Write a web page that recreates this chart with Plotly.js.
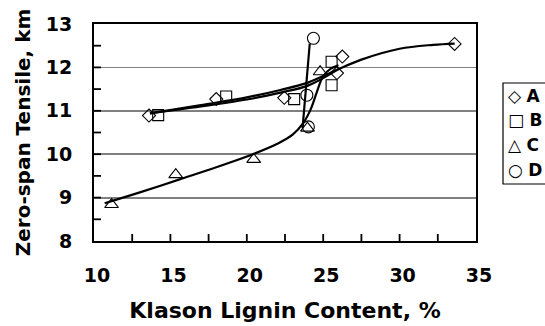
<!DOCTYPE html>
<html>
<head>
<meta charset="utf-8">
<script src="https://cdn.plot.ly/plotly-3.0.1.min.js"></script>
<style>html,body{margin:0;padding:0;background:#fff;}#chart{width:545px;height:326px;}</style>
</head>
<body>
<div id="chart"></div>
<script>
// ---- data ----
const seriesNames = ['A', 'B', 'C', 'D'];
const legendGlyphs = ['\u25C7', '\u25A1', '\u25B3', '\u25CB'];

const aX = [13.6, 18.0, 22.45, 25.9, 26.25, 33.6];
const aY = [10.89, 11.27, 11.30, 11.87, 12.25, 12.54];
const bX = [14.2, 18.65, 23.1, 25.55, 25.55];
const bY = [10.90, 11.33, 11.27, 12.13, 11.59];
const cX = [11.15, 15.35, 20.45, 23.97, 24.8];
const cY = [8.84, 9.53, 9.88, 10.60, 11.90];
const dX = [24.36, 23.93, 24.03];
const dY = [12.67, 11.36, 10.63];

// trend lines
const aFitX = [13.66, 17, 20, 22.2, 24, 25.8, 27.5, 30, 32.2, 33.6];
const aFitY = [10.94, 11.13, 11.31, 11.48, 11.65, 11.93, 12.18, 12.43, 12.52, 12.55];
const bFitX = [13.66, 17, 20, 22.2, 24, 26.0];
const bFitY = [10.94, 11.10, 11.26, 11.42, 11.58, 11.96];
const cFitX = [10.7, 13, 15.6, 18, 20.4, 22.0, 23.0, 23.7, 24.2, 24.6, 25.0, 25.5, 26.0];
const cFitY = [8.87, 9.12, 9.42, 9.70, 10.0, 10.24, 10.45, 10.72, 11.05, 11.45, 11.80, 11.97, 12.05];
const dFitX = [24.12, 23.65];
const dFitY = [12.55, 10.60];

// axes
const xRange = [10, 35];
const yRange = [8, 13];
const xMinorTicks = [12.5, 15, 17.5, 20, 22.5, 25, 27.5, 30, 32.5];
const yMinorTicks = [8.5, 9, 9.5, 10, 10.5, 11, 11.5, 12, 12.5];

const FONT = 'DejaVu Sans, Liberation Sans, Arial, sans-serif';

function fit(x, y) {
  return {x: x, y: y, type: 'scatter', mode: 'lines', showlegend: false, hoverinfo: 'skip',
          line: {color: '#000', width: 2.2, shape: 'spline', smoothing: 1}};
}
function pts(x, y, sym, size, name) {
  return {x: x, y: y, type: 'scatter', mode: 'markers', name: name, showlegend: false,
          marker: {symbol: sym, size: size, color: '#000', line: {color: '#000', width: 1.1}}};
}

const data = [
  fit(aFitX, aFitY), fit(bFitX, bFitY), fit(cFitX, cFitY),
  {x: dFitX, y: dFitY, type: 'scatter', mode: 'lines', showlegend: false, hoverinfo: 'skip', line: {color: '#000', width: 2.2}},
  pts(aX, aY, 'diamond-open', 10, seriesNames[0]),
  pts(bX, bY, 'square-open', 11, seriesNames[1]),
  pts(cX, cY, 'triangle-up-open', 12, seriesNames[2]),
  pts(dX, dY, 'circle-open', 12, seriesNames[3])
];

// legend built from annotations (px -> paper conversion)
const L = 94, R = 476, T = 24, B = 241;
const px = v => (v - L) / (R - L);
const py = v => (B - v) / (B - T);
const legendRowsY = [96, 120, 145, 170];
const annotations = seriesNames.map((n, i) => ({
  xref: 'paper', yref: 'paper', x: px(506), y: py(legendRowsY[i]),
  xanchor: 'left', yanchor: 'middle', showarrow: false,
  text: legendGlyphs[i] + ' <b>' + n + '</b>',
  font: {family: FONT, size: 17, color: '#000'}
}));

// inside tick marks as pixel-sized shapes anchored at axis values
const TICK = 7;
const tickShapes = [].concat(
  xMinorTicks.map(v => ({type: 'line', layer: 'above', xref: 'x', yref: 'y', x0: v, x1: v,
    ysizemode: 'pixel', yanchor: yRange[0], y0: 0, y1: TICK, line: {color: '#000', width: 1.8}})),
  yMinorTicks.map(v => ({type: 'line', layer: 'above', xref: 'x', yref: 'y', y0: v, y1: v,
    xsizemode: 'pixel', xanchor: xRange[0], x0: 0, x1: TICK, line: {color: '#000', width: 1.8}}))
);

const layout = {
  width: 545, height: 326,
  margin: {l: L, r: 545 - R, t: T, b: 326 - B},
  paper_bgcolor: '#fff', plot_bgcolor: '#fff',
  showlegend: false,
  font: {family: FONT, color: '#000'},
  xaxis: {
    range: xRange, tickmode: 'linear', tick0: 10, dtick: 5,
    ticks: '', showline: true, linecolor: '#000', linewidth: 2, mirror: true,
    showgrid: false, zeroline: false,
    tickfont: {family: FONT, size: 19, weight: 'bold', color: '#000'},
    ticklabelstandoff: 16, ticklabelshift: 3,
    title: {text: 'Klason Lignin Content, %', font: {family: FONT, size: 22, weight: 'bold', color: '#000'}, standoff: 18},
    automargin: false
  },
  yaxis: {
    range: yRange, tickmode: 'linear', tick0: 8, dtick: 1,
    ticks: '', showline: true, linecolor: '#000', linewidth: 2, mirror: true,
    showgrid: true, gridcolor: '#808080', gridwidth: 1.8, zeroline: false,
    tickfont: {family: FONT, size: 19, weight: 'bold', color: '#000'},
    ticklabelstandoff: 16,
    title: {text: 'Zero-span Tensile, km', font: {family: FONT, size: 20, weight: 'bold', color: '#000'}, standoff: 10},
    automargin: false
  },
  shapes: [{type: 'rect', xref: 'paper', yref: 'paper', x0: px(503), x1: px(600), y0: py(184), y1: py(83),
            line: {color: '#000', width: 1.2}, fillcolor: 'rgba(0,0,0,0)'}].concat(tickShapes),
  annotations: annotations
};

Plotly.newPlot('chart', data, layout, {staticPlot: true, displayModeBar: false});
</script>
</body>
</html>
